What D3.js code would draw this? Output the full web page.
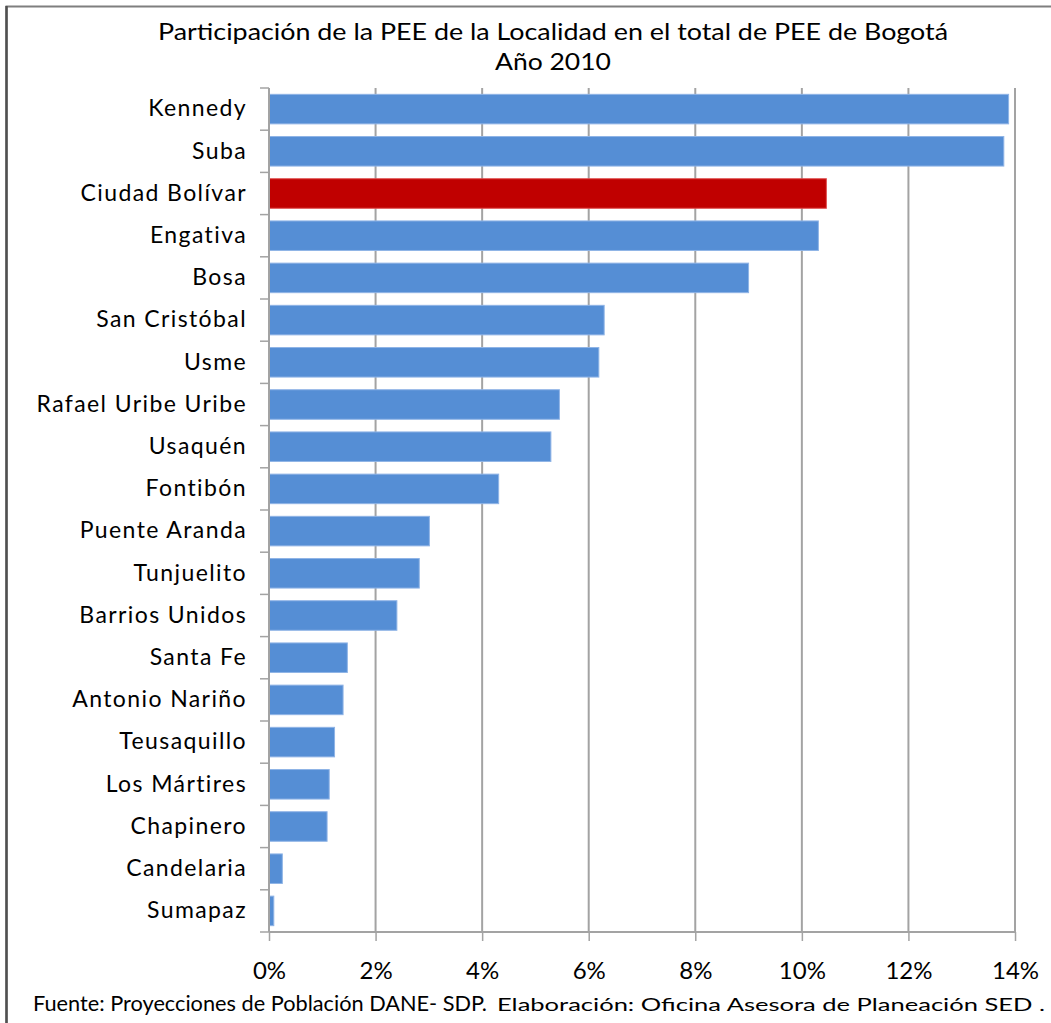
<!DOCTYPE html>
<html>
<head>
<meta charset="utf-8">
<script src="https://cdn.jsdelivr.net/npm/d3@7"></script>
<style>
  html, body { margin: 0; padding: 0; background: #fff; }
  svg { display: block; }
  text { font-family: Lato, "Open Sans", sans-serif; fill: #000; }
</style>
</head>
<body>
<svg id="chart" width="1051" height="1023"></svg>
<script>
const categories = ["Kennedy","Suba","Ciudad Bolívar","Engativa","Bosa","San Cristóbal","Usme","Rafael Uribe Uribe","Usaquén","Fontibón","Puente Aranda","Tunjuelito","Barrios Unidos","Santa Fe","Antonio Nariño","Teusaquillo","Los Mártires","Chapinero","Candelaria","Sumapaz"];
const values = [13.88,13.79,10.46,10.31,9.00,6.29,6.19,5.45,5.29,4.31,3.01,2.82,2.40,1.47,1.39,1.23,1.13,1.09,0.25,0.09];
const highlight = ["Ciudad Bolívar"];
const tickValues = [0,2,4,6,8,10,12,14];
const titleLines = ["Participación de la PEE de la Localidad en el total de  PEE de Bogotá","Año 2010"];
const sourceMain = "Fuente: Proyecciones de Población DANE- SDP.";
const sourceSmall = "Elaboración: Oficina Asesora de Planeación SED .";

(function () {
const svg = d3.select("#chart");
const mL = 269, mR = 1015, mT = 88, mB = 932;

// outer frame
svg.append("rect").attr("x", 6.5).attr("y", 6.5).attr("width", 1200).attr("height", 1200)
  .attr("fill", "none").attr("stroke", "#7f7f7f").attr("stroke-width", 2);
svg.append("line").attr("x1", 6.5).attr("x2", 6.5).attr("y1", 6).attr("y2", 1023)
  .attr("stroke", "#505050").attr("stroke-width", 2.5);

const x = d3.scaleLinear().domain([0, 14]).range([mL, mR]);
const y = d3.scaleBand().domain(categories).range([mT, mB]).paddingInner(0.3).paddingOuter(0.15);

// gridlines
svg.append("g").selectAll("line").data(tickValues.filter(d => d > 0)).join("line")
  .attr("x1", d => x(d)).attr("x2", d => x(d)).attr("y1", mT).attr("y2", mB)
  .attr("stroke", "#a3a3a3").attr("stroke-width", 2);

// bars
svg.append("g").selectAll("rect").data(categories).join("rect")
  .attr("x", mL).attr("y", d => y(d))
  .attr("width", (d, i) => x(values[i]) - mL).attr("height", y.bandwidth())
  .attr("fill", d => highlight.includes(d) ? "#c00000" : "#558ed5")
  .attr("stroke", d => highlight.includes(d) ? "#e05050" : "#8fb4e6").attr("stroke-width", 1);

// x axis
const xAxis = d3.axisBottom(x).tickValues(tickValues).tickFormat(d => d + "%").tickSize(9).tickPadding(20);
const gx = svg.append("g").attr("transform", `translate(0,${mB})`).call(xAxis);
gx.select(".domain").attr("stroke", "#a3a3a3").attr("stroke-width", 2).attr("d", `M${mL},0H${mR + 1}`);
gx.selectAll(".tick line").attr("stroke", "#a3a3a3").attr("stroke-width", 1.5);
gx.selectAll(".tick text").attr("font-size", 24).attr("font-family", "Lato, sans-serif")
  .attr("fill", "#000").attr("dy", "0.71em").attr("y", 30);

// y axis
const yAxis = d3.axisLeft(y).tickSize(0).tickPadding(22);
const gy = svg.append("g").attr("transform", `translate(${mL},0)`).call(yAxis);
gy.select(".domain").attr("stroke", "#a3a3a3").attr("stroke-width", 2).attr("d", `M0,${mT}V${mB}`);
gy.selectAll(".tick text").attr("font-size", 23).attr("font-family", "Lato, sans-serif")
  .attr("letter-spacing", "1.4px").attr("fill", "#000");
// band boundary ticks
svg.append("g").selectAll("line").data(d3.range(categories.length + 1)).join("line")
  .attr("x1", mL - 9).attr("x2", mL)
  .attr("y1", i => mT + i * (mB - mT) / categories.length)
  .attr("y2", i => mT + i * (mB - mT) / categories.length)
  .attr("stroke", "#a3a3a3").attr("stroke-width", 1.5);

// title
svg.append("text").attr("x", 553).attr("y", 40).attr("text-anchor", "middle")
  .attr("font-size", 23).attr("textLength", 790).attr("lengthAdjust", "spacingAndGlyphs")
  .text(titleLines[0]);
svg.append("text").attr("x", 553).attr("y", 70).attr("text-anchor", "middle")
  .attr("font-size", 23).attr("textLength", 116).attr("lengthAdjust", "spacingAndGlyphs")
  .text(titleLines[1]);

// footer
svg.append("text").attr("x", 33).attr("y", 1011).attr("font-size", 21)
  .attr("textLength", 454).attr("lengthAdjust", "spacingAndGlyphs").text(sourceMain);
svg.append("text").attr("x", 497).attr("y", 1011).attr("font-size", 18)
  .attr("textLength", 548).attr("lengthAdjust", "spacingAndGlyphs").text(sourceSmall);
})();
</script>
</body>
</html>
